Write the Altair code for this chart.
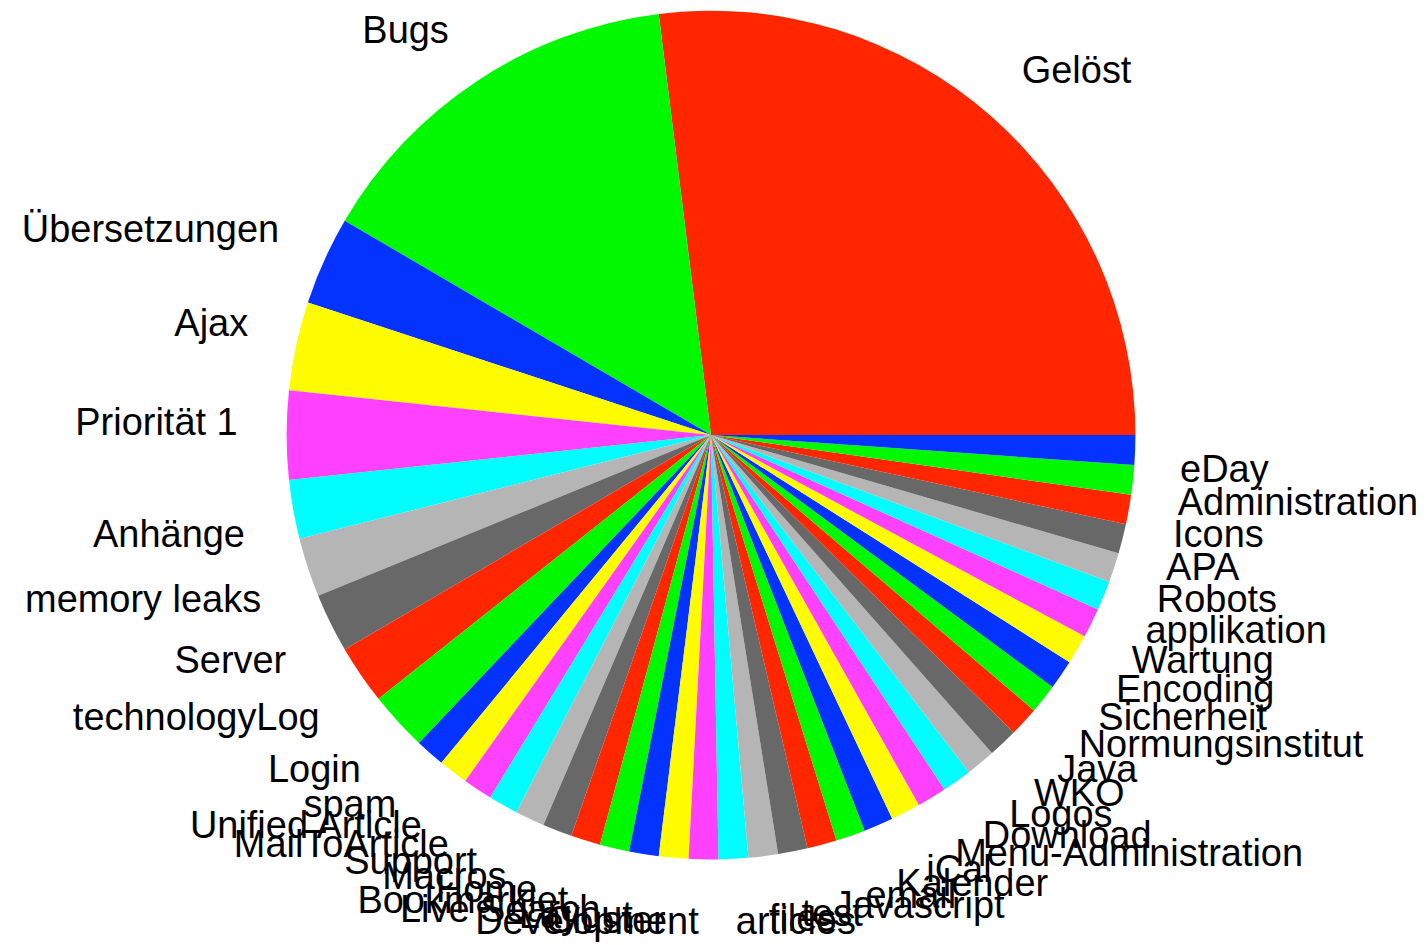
import math
import altair as alt
import pandas as pd

labels = [
    "Gelöst", "Bugs", "Übersetzungen", "Ajax", "Priorität 1", "Anhänge",
    "memory leaks", "Server", "technologyLog", "Login", "spam",
    "Unified Article", "MailToArticle", "Support", "Macros", "Home",
    "Bookmarklet", "Live Search", "Layout", "Cluster", "Development",
    "articles", "files", "test", "Javascript", "email", "Kalender", "iCal",
    "Menu-Administration", "Download", "Logos", "WKO", "Java",
    "Normungsinstitut", "Sicherheit", "Encoding", "Wartung", "applikation",
    "Robots", "APA", "Icons", "Administration", "eDay",
]
counts = [
    24, 13, 3, 3, 3, 2,
    2, 2, 2, 2, 1,
    1, 1, 1, 1, 1,
    1, 1, 1, 1, 1,
    1, 1, 1, 1, 1, 1, 1,
    1, 1, 1, 1, 1,
    1, 1, 1, 1, 1,
    1, 1, 1, 1, 1,
]
palette = ["#FF2600", "#00F900", "#0433FF", "#FFFB00", "#FF40FF", "#00FDFF", "#B5B5B5", "#686868"]

colors = [palette[i % len(palette)] for i in range(len(labels))]
total = sum(counts)

df = pd.DataFrame({"label": labels, "count": counts, "idx": list(range(len(labels)))})

theta_scale = alt.Scale(domain=[0, total], range=[math.pi / 2, math.pi / 2 - 2 * math.pi])
CX, CY = 704, 427

base = alt.Chart(df).transform_window(
    cum="sum(count)", sort=[alt.SortField("idx")], frame=[None, 0]
).transform_calculate(
    start="datum.cum - datum.count",
    mid="datum.cum - datum.count / 2",
).transform_calculate(
    phi=f"2 * PI * datum.mid / {total}",
).transform_calculate(
    isright="cos(datum.phi) > 0",
    isupper="sin(datum.phi) >= 0",
)

arcs = base.mark_arc(outerRadius=425).encode(
    theta=alt.Theta("start:Q", scale=theta_scale),
    theta2=alt.Theta2("cum:Q"),
    color=alt.Color("label:N", scale=alt.Scale(domain=labels, range=colors), legend=None),
    x=alt.value(CX),
    y=alt.value(CY),
)


def text_layer(cond, align, baseline, dx):
    return base.transform_filter(cond).mark_text(
        radius=470, fontSize=38, font="Liberation Sans", color="black",
        align=align, baseline=baseline, dx=dx,
    ).encode(
        theta=alt.Theta("mid:Q", scale=theta_scale),
        text="label:N",
        x=alt.value(CX),
        y=alt.value(CY),
    )


t1 = text_layer("datum.isright && datum.isupper", "left", "alphabetic", 0)
t2 = text_layer("!datum.isright && datum.isupper", "right", "alphabetic", -4)
t3 = text_layer("datum.isright && !datum.isupper", "left", "top", 0)
t4 = text_layer("!datum.isright && !datum.isupper", "right", "top", -4)

chart = alt.layer(arcs, t1, t2, t3, t4).properties(
    width=1400, height=920, padding=0
).configure_view(stroke=None)

chart.save("out.html", embed_options={"renderer": "svg", "actions": False})
